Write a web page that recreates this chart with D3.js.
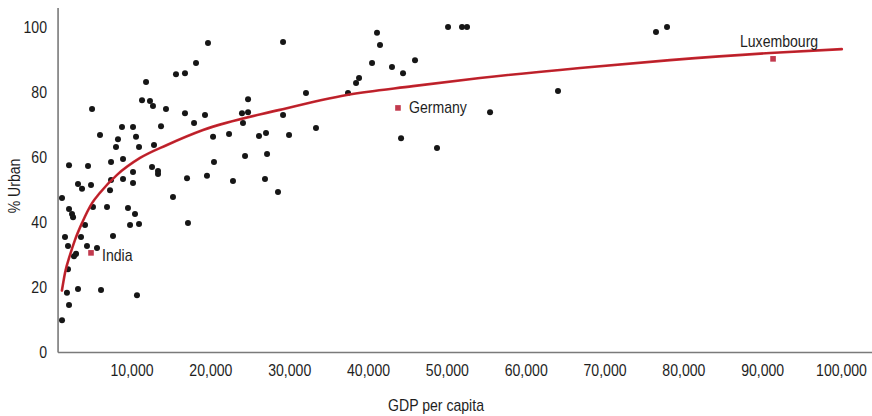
<!DOCTYPE html>
<html>
<head>
<meta charset="utf-8">
<script src="https://cdn.jsdelivr.net/npm/d3@7"></script>
<style>
  body { margin: 0; background: #fff; }
  svg text { font-family: 'Liberation Sans', Arial, sans-serif; fill: #1e1e1e; }
</style>
</head>
<body>
<div id="chart"></div>
<script>
// countries: GDP per capita vs % urban
const gdp = [19700, 29220, 18180, 15640, 16780, 11840, 11330, 12340, 12720, 14370,
  4990, 16780, 19320, 24010, 24780, 24780, 29220, 8790, 10190, 13740,
  17930, 24140, 6000, 8280, 10570, 10950, 8030, 12850, 20340, 22370,
  26170, 27060, 29980, 8920, 2070, 4480, 7400, 12600, 13360, 13360,
  10190, 8920, 7400, 10190, 3210, 3720, 4860, 7270, 17040, 19570,
  20460, 24400, 27190, 22870, 26930, 28580, 15260, 1180, 5110, 6890,
  9550, 10440, 2070, 2450, 2580, 4100, 9810, 10950, 17160, 1560,
  3590, 7650, 1940, 4350, 5620, 2960, 2700, 1940, 3210, 6130,
  1810, 2070, 10690, 1180, 32130, 33400, 41140, 41520, 40510, 43040,
  44440, 45960, 38860, 38480, 37460, 50150, 51920, 52560, 64100, 55480,
  44190, 48750, 76530, 77930];
const urban = [95.1, 95.4, 88.9, 85.5, 85.8, 83.1, 77.5, 77.2, 75.7, 74.8,
  74.8, 73.5, 72.9, 73.5, 73.8, 77.8, 72.9, 69.2, 69.2, 69.5,
  70.5, 70.5, 66.8, 65.5, 66.2, 63.1, 63.1, 63.7, 66.2, 67.1,
  66.5, 67.4, 66.8, 59.4, 57.5, 57.2, 58.5, 56.9, 55.7, 54.8,
  55.4, 53.2, 52.9, 52.0, 51.7, 50.2, 51.4, 49.8, 53.5, 54.2,
  58.5, 60.3, 60.9, 52.6, 53.2, 49.2, 47.7, 47.4, 44.6, 44.6,
  44.3, 42.5, 44.0, 42.5, 41.5, 39.1, 39.1, 39.4, 39.7, 35.4,
  35.4, 35.7, 32.6, 32.6, 32.0, 30.2, 29.5, 25.5, 19.4, 19.1,
  18.2, 14.5, 17.5, 9.8, 79.7, 68.9, 98.2, 94.5, 88.9, 87.7,
  85.8, 89.8, 84.3, 82.8, 79.7, 100, 100, 100, 80.3, 73.8,
  65.8, 62.8, 98.5, 100];

const labelNames = ['India', 'Germany', 'Luxembourg'];
const labelGdp = [4860, 43800, 91380];
const labelUrban = [30.5, 75.1, 90.2];

// fitted trend
const trendGdp = [1170, 1560, 2190, 2830, 3720, 4990, 6000, 8160, 11080, 14500,
  19070, 28800, 37300, 45700, 54200, 66900, 78300, 91000, 100100];
const trendUrban = [18.9, 24.3, 29.8, 34.5, 39.7, 45.8, 49, 54.5, 59.7, 63.7,
  68.3, 74.5, 79.1, 81.8, 84.3, 87.4, 89.8, 92, 93.2];

const xTicks = [10000, 20000, 30000, 40000, 50000, 60000, 70000, 80000, 90000, 100000];
const yTicks = [0, 20, 40, 60, 80, 100];

const W = 872, H = 416;
const fontSize = 16;
const squeeze = 'scale(0.88,1)';   // fake a condensed face

const svg = d3.select('#chart')
  .append('svg')
  .attr('width', W)
  .attr('height', H);

const x = d3.scaleLinear().domain([0, 100000]).range([52.7, 841]);
const y = d3.scaleLinear().domain([0, 100]).range([352, 27]);
const axisX0 = x(680);
const fmt = d3.format(',');

function narrowText(g, px, py, str, anchor) {
  return g.append('text')
    .attr('transform', `translate(${px}, ${py}) ${squeeze}`)
    .attr('text-anchor', anchor || 'start')
    .attr('font-size', fontSize)
    .text(str);
}

// axes lines
svg.append('line')
  .attr('x1', axisX0).attr('x2', W)
  .attr('y1', y(0) + 0.5).attr('y2', y(0) + 0.5)
  .attr('stroke', '#7a7a7a').attr('stroke-width', 1.6);
svg.append('line')
  .attr('x1', axisX0).attr('x2', axisX0)
  .attr('y1', 8).attr('y2', y(0) + 0.5)
  .attr('stroke', '#7a7a7a').attr('stroke-width', 1.6);

const xAxis = d3.axisBottom(x).tickValues(xTicks).tickFormat(fmt).tickSize(0).tickPadding(0);
const gx = svg.append('g')
  .attr('transform', `translate(0, ${y(0) + 24})`)
  .call(xAxis);
gx.select('.domain').remove();
gx.selectAll('text').attr('dy', 0).attr('font-size', fontSize).attr('transform', squeeze);

const yAxis = d3.axisLeft(y).tickValues(yTicks).tickSize(0).tickPadding(0);
const gy = svg.append('g')
  .attr('transform', `translate(47, 0)`)
  .call(yAxis);
gy.select('.domain').remove();
gy.selectAll('text').attr('font-size', fontSize).attr('dy', '0.36em').attr('transform', squeeze);

svg.selectAll('.tick text').attr('font-family', null);

// axis titles
narrowText(svg, 436, 411, 'GDP per capita', 'middle');
svg.append('text')
  .attr('transform', `translate(20, 186) rotate(-90) ${squeeze}`)
  .attr('text-anchor', 'middle')
  .attr('font-size', fontSize)
  .text('% Urban');

// points
const points = d3.range(gdp.length).map(i => ({ g: gdp[i], u: urban[i] }));
svg.append('g')
  .selectAll('circle')
  .data(points)
  .enter()
  .append('circle')
    .attr('cx', d => x(d.g))
    .attr('cy', d => y(d.u))
    .attr('r', 3)
    .attr('fill', '#161616');

const labels = d3.range(labelNames.length).map(i => ({ name: labelNames[i], g: labelGdp[i], u: labelUrban[i] }));
svg.append('g')
  .selectAll('rect')
  .data(labels)
  .enter()
  .append('rect')
    .attr('x', d => x(d.g) - 2.8)
    .attr('y', d => y(d.u) - 2.8)
    .attr('width', 5.6)
    .attr('height', 5.6)
    .attr('fill', '#c23a4e');

// trend curve
const line = d3.line()
  .x((d, i) => x(trendGdp[i]))
  .y((d, i) => y(trendUrban[i]))
  .curve(d3.curveMonotoneX);
svg.append('path')
  .attr('d', line(trendGdp))
  .attr('fill', 'none')
  .attr('stroke', '#cc2630')
  .attr('stroke-width', 2.6)
  .attr('stroke-linecap', 'round');
svg.append('path')
  .attr('d', line(trendGdp))
  .attr('fill', 'none')
  .attr('stroke', '#8e1a22')
  .attr('stroke-width', 0.8)
  .attr('opacity', 0.6);

// country labels
const lab = svg.append('g');
labels.forEach(d => {
  if (d.name === 'Luxembourg') {
    const t = narrowText(lab, x(d.g) + 6, y(d.u) - 12, d.name, 'middle');
    const bb = t.node().getBBox();
    const w = bb.width * 0.88;
    lab.insert('rect', 'text')
      .attr('x', x(d.g) + 6 - w / 2).attr('y', y(d.u) - 12 + bb.y + 1)
      .attr('width', w).attr('height', bb.height - 3)
      .attr('fill', '#fff');
  } else {
    narrowText(lab, x(d.g) + 11, y(d.u) + (d.name === 'India' ? 3 : 0) + 5.5, d.name);
  }
});
</script>
</body>
</html>
